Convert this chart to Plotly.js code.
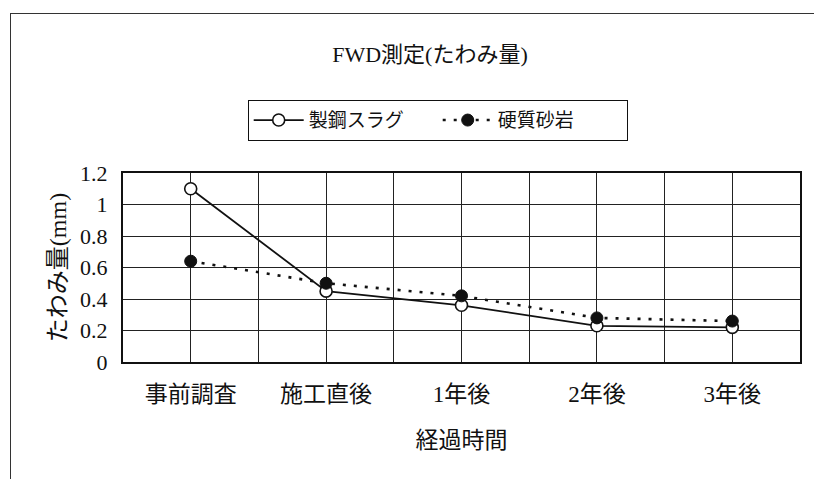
<!DOCTYPE html>
<html>
<head>
<meta charset="utf-8">
<script src="https://cdn.plot.ly/plotly-3.0.1.min.js"></script>
<style>
  html, body { margin: 0; padding: 0; background: #fff; overflow: hidden; }
  #frame { position: absolute; left: 10px; top: 13px; width: 900px; height: 600px;
           border: 1px solid #333; box-sizing: border-box; }
  #chart { position: absolute; left: 0; top: 0; width: 814px; height: 479px; }
</style>
</head>
<body>
<div id="frame"></div>
<div id="chart"></div>
<script>
// Elapsed-time categories along the x axis
const periods = ['事前調査', '施工直後', '1年後', '2年後', '3年後'];
// Deflection (mm) measured by FWD for each base material
const slagDeflection = [1.10, 0.45, 0.36, 0.23, 0.22];      // 製鋼スラグ
const sandstoneDeflection = [0.64, 0.50, 0.42, 0.28, 0.26]; // 硬質砂岩
// Y-axis ticks
const yTicks = [0, 0.2, 0.4, 0.6, 0.8, 1, 1.2];

const xPos = periods.map((_, i) => i);
const FONT = '"Liberation Serif", "Noto Sans CJK JP", serif';

const traces = [
  {
    x: xPos, y: slagDeflection, name: '製鋼スラグ',
    type: 'scatter', mode: 'lines+markers',
    line: { color: '#111', width: 1.8 },
    marker: { symbol: 'circle', size: 12, color: '#fff', line: { color: '#111', width: 1.6 } }
  },
  {
    x: xPos, y: sandstoneDeflection, name: '硬質砂岩',
    type: 'scatter', mode: 'lines+markers',
    line: { color: '#111', width: 2.6, dash: '3px,8px' },
    marker: { symbol: 'circle', size: 12, color: '#111', line: { color: '#111', width: 1 } }
  }
];

const layout = {
  width: 814, height: 479,
  paper_bgcolor: 'rgba(0,0,0,0)', plot_bgcolor: '#fff',
  margin: { l: 123, r: 14, t: 173, b: 117 },
  font: { family: FONT, color: '#111', size: 20 },
  title: {
    text: 'FWD測定(たわみ量)',
    font: { family: FONT, size: 22, color: '#111' },
    x: 430 / 814, xref: 'container', xanchor: 'center',
    y: 1 - 54 / 479, yref: 'container', yanchor: 'middle'
  },
  showlegend: true,
  legend: {
    orientation: 'h',
    x: (438 - 123) / 677, xanchor: 'center',
    y: (362 - 100) / 189, yanchor: 'top',
    bordercolor: '#111', borderwidth: 1.2, bgcolor: '#fff',
    font: { family: FONT, size: 19, color: '#111' },
    entrywidth: 124, entrywidthmode: 'pixels',
    itemwidth: 50, tracegroupgap: 0
  },
  xaxis: {
    range: [-0.5, 4.5],
    tickmode: 'array', tickvals: xPos, ticktext: periods,
    tickfont: { family: FONT, size: 23, color: '#111' },
    ticks: '', ticklabelstandoff: 10,
    showgrid: true, gridcolor: '#222', gridwidth: 1,
    minor: { dtick: 1, tick0: 0.5, showgrid: true, gridcolor: '#222', gridwidth: 1, ticks: '' },
    showline: true, linecolor: '#111', linewidth: 2, mirror: true,
    zeroline: false, fixedrange: true,
    title: { text: '経過時間', font: { family: FONT, size: 23, color: '#111' }, standoff: 26 }
  },
  yaxis: {
    range: [0, 1.2],
    tickmode: 'array', tickvals: yTicks,
    tickfont: { family: FONT, size: 22, color: '#111' },
    ticks: '', ticklabelstandoff: 9,
    showgrid: true, gridcolor: '#222', gridwidth: 1,
    showline: true, linecolor: '#111', linewidth: 2, mirror: true,
    zeroline: false, fixedrange: true,
    title: { text: 'たわみ量(mm)', font: { family: FONT, size: 24, color: '#111' }, standoff: 7 }
  }
};

Plotly.newPlot('chart', traces, layout, { staticPlot: true, displayModeBar: false });
</script>
</body>
</html>
